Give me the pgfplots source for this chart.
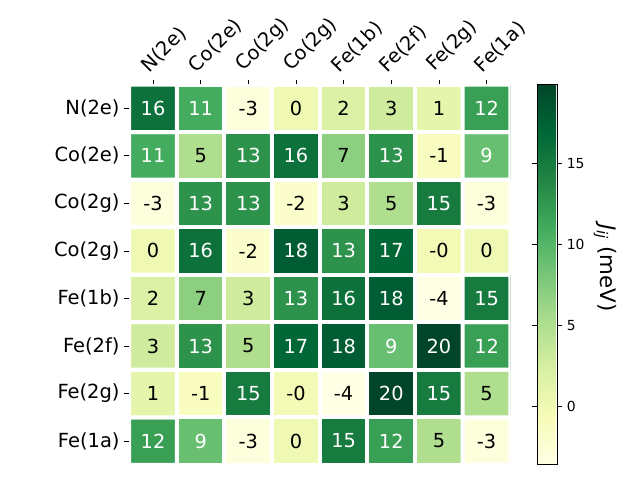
\documentclass[border=0pt]{standalone}
\usepackage{pgfplots}
\pgfplotsset{compat=1.18}
\usepackage{pgfplotstable}
\usepackage{fontspec}
\setmainfont{DejaVu Sans}
\pgfplotsset{colormap={ylgn}{rgb255=(255,255,229) rgb255=(247,252,185) rgb255=(217,240,163) rgb255=(173,221,142) rgb255=(120,198,121) rgb255=(65,171,93) rgb255=(35,132,67) rgb255=(0,104,55) rgb255=(0,69,41)}}
\pgfplotstableread{
x y c label
0 0 12 12
1 0 9 9
2 0 -3 -3
3 0 0.1 0
4 0 15 15
5 0 12 12
6 0 5 5
7 0 -3 -3
0 1 1 1
1 1 -1 -1
2 1 15 15
3 1 -0.2 -0
4 1 -3.64 -4
5 1 19.9 20
6 1 15 15
7 1 5 5
0 2 3 3
1 2 13 13
2 2 5 5
3 2 17 17
4 2 18 18
5 2 9 9
6 2 19.9 20
7 2 12 12
0 3 2 2
1 3 7 7
2 3 3 3
3 3 13 13
4 3 16 16
5 3 18 18
6 3 -3.64 -4
7 3 15 15
0 4 0.1 0
1 4 16 16
2 4 -2 -2
3 4 18 18
4 4 13 13
5 4 17 17
6 4 -0.2 -0
7 4 0.1 0
0 5 -3 -3
1 5 13 13
2 5 13 13
3 5 -2 -2
4 5 3 3
5 5 5 5
6 5 15 15
7 5 -3 -3
0 6 11 11
1 6 5 5
2 6 13 13
3 6 16 16
4 6 7 7
5 6 13 13
6 6 -1 -1
7 6 9 9
0 7 16 16
1 7 11 11
2 7 -3 -3
3 7 0.1 0
4 7 2 2
5 7 3 3
6 7 1 1
7 7 12 12
}\jdata
\begin{document}
\begin{tikzpicture}
\begin{axis}[
  scale only axis, width=285.9pt, height=285.2pt,
  xmin=-0.5, xmax=7.5, ymin=-0.5, ymax=7.5,
  axis x line*=top, axis y line*=left, axis line style={draw=none},
  tick align=outside, major tick length=3.7pt, tick style={black, line width=0.6pt},
  xtick={0,...,7}, ytick={0,...,7},
  xticklabels={N(2e),Co(2e),Co(2g),Co(2g),Fe(1b),Fe(2f),Fe(2g),Fe(1a)},
  yticklabels={Fe(1a),Fe(2g),Fe(2f),Fe(1b),Co(2g),Co(2g),Co(2e),N(2e)},
  ticklabel style={font=\fontsize{14.6}{17}\selectfont},
  xticklabel style={rotate=45, anchor=south west, xshift=-2pt},
  /pgf/number format/assume math mode=true,
  colormap name=ylgn, point meta min=-3.64, point meta max=19.9,
  colorbar,
  colorbar style={
    at={(1.0703,1)}, anchor=north west,
    width=15pt,
    axis line style={draw=black, line width=0.6pt},
    ytick={0,5,10,15},
    yticklabel pos=right,
    tick align=outside, major tick length=3.7pt,
    /pgf/number format/assume math mode=true,
    yticklabel style={font=\fontsize{10.4}{12}\selectfont},
  },
  unbounded coords=discard,
]
\addplot[matrix plot*, mesh/cols=8, point meta=explicit, draw=white, line width=3pt]
  table[x=x, y=y, meta=c]{\jdata};
\addplot[only marks, mark=none, point meta=explicit symbolic,
  restrict expr to domain={\thisrow{c}}{8:100},
  nodes near coords, nodes near coords align=center,
  every node near coord/.append style={font=\fontsize{14.5}{17}\selectfont, anchor=center, text=white}]
  table[x=x, y=y, meta=label]{\jdata};
\addplot[only marks, mark=none, point meta=explicit symbolic,
  restrict expr to domain={\thisrow{c}}{-100:8},
  nodes near coords, nodes near coords align=center,
  every node near coord/.append style={font=\fontsize{14.5}{17}\selectfont, anchor=center, text=black}]
  table[x=x, y=y, meta=label]{\jdata};
\end{axis}
\path (-96.9pt,-11.4pt) rectangle (383.1pt,348.6pt);
\node[rotate=-90] at (356.9pt,147.6pt) {\fontsize{16}{19}\selectfont\textit{J}\textsubscript{\textit{ij}} (meV)};
\end{tikzpicture}
\end{document}
